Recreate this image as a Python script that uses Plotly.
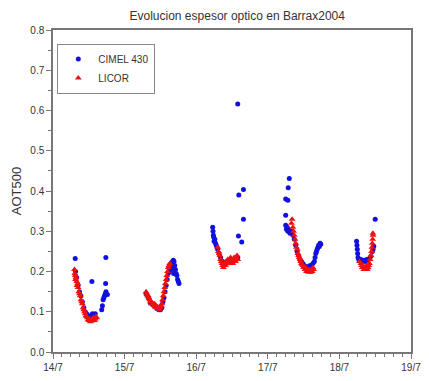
import plotly.graph_objects as go

# ---- data (day of July 2004 as fractional day, AOT500) ----
cimel_day = [
    14.31, 14.315, 14.33, 14.35, 14.37, 14.39, 14.41, 14.43, 14.45, 14.47, 14.49, 14.51, 14.53, 14.55, 14.57, 14.59,
    14.543, 14.68, 14.69, 14.70, 14.71, 14.72, 14.73, 14.735, 14.74, 14.76, 14.738,
    15.30, 15.33, 15.36, 15.39, 15.42, 15.45, 15.48, 15.50, 15.52, 15.535, 15.55, 15.565, 15.58, 15.595, 15.61, 15.625,
    15.64, 15.66, 15.67, 15.68, 15.69, 15.70, 15.71, 15.72, 15.73, 15.74, 15.75, 15.76, 15.68, 15.685,
    16.23, 16.235, 16.24, 16.245, 16.25, 16.26, 16.27, 16.28, 16.29, 16.30, 16.32, 16.34, 16.37, 16.40, 16.43, 16.46,
    16.49, 16.52, 16.55, 16.58, 16.58, 16.66, 16.595, 16.66, 16.59, 16.636,
    17.25, 17.25, 17.28, 17.285, 17.30,
    17.25, 17.26, 17.27, 17.28, 17.29, 17.30, 17.31, 17.33, 17.35, 17.37, 17.39, 17.41, 17.43, 17.45, 17.47, 17.49,
    17.51, 17.53, 17.55, 17.57, 17.59, 17.61, 17.63, 17.65, 17.66, 17.67, 17.68, 17.69, 17.70, 17.71, 17.72, 17.73, 17.74,
    18.24, 18.245, 18.25, 18.255, 18.26, 18.27, 18.28, 18.30, 18.32, 18.34, 18.36, 18.38, 18.40, 18.42, 18.44, 18.46,
    18.47, 18.48, 18.50,
]
cimel_aot = [
    0.232, 0.20, 0.185, 0.165, 0.15, 0.14, 0.125, 0.11, 0.10, 0.095, 0.09, 0.085, 0.09, 0.095, 0.09, 0.095,
    0.175, 0.105, 0.115, 0.13, 0.135, 0.14, 0.145, 0.17, 0.15, 0.143, 0.235,
    0.145, 0.135, 0.122, 0.118, 0.113, 0.108, 0.105, 0.105, 0.11, 0.125, 0.135, 0.15, 0.165, 0.18, 0.195, 0.20,
    0.21, 0.215, 0.225, 0.228, 0.225, 0.215, 0.205, 0.195, 0.19, 0.18, 0.175, 0.17, 0.205, 0.195,
    0.31, 0.30, 0.29, 0.285, 0.275, 0.28, 0.27, 0.265, 0.26, 0.255, 0.245, 0.235, 0.225, 0.22, 0.225, 0.222,
    0.228, 0.225, 0.23, 0.235, 0.616, 0.404, 0.39, 0.33, 0.288, 0.273,
    0.34, 0.38, 0.377, 0.408, 0.431,
    0.315, 0.305, 0.31, 0.30, 0.305, 0.30, 0.295, 0.30, 0.29, 0.28, 0.265, 0.25, 0.24, 0.23, 0.225, 0.22,
    0.215, 0.21, 0.212, 0.21, 0.215, 0.212, 0.22, 0.225, 0.235, 0.245, 0.25, 0.255, 0.26, 0.265, 0.262, 0.27, 0.268,
    0.275, 0.265, 0.255, 0.245, 0.235, 0.23, 0.228, 0.23, 0.225, 0.228, 0.225, 0.23, 0.228, 0.232, 0.238, 0.25,
    0.255, 0.263, 0.33,
]

licor_day = [
    14.30, 14.305, 14.31, 14.315, 14.32, 14.33, 14.335, 14.345, 14.35, 14.36, 14.37, 14.38, 14.39, 14.40, 14.41, 14.42,
    14.43, 14.44, 14.45, 14.46, 14.47, 14.48, 14.49, 14.50, 14.51, 14.52, 14.53, 14.54, 14.55, 14.56, 14.57, 14.58,
    14.59, 14.60, 14.61,
    15.30, 15.31, 15.32, 15.33, 15.34, 15.35, 15.36, 15.37, 15.38, 15.39, 15.40, 15.41, 15.42, 15.43, 15.44, 15.45,
    15.46, 15.47, 15.48, 15.49, 15.50, 15.51, 15.52, 15.53, 15.54, 15.55, 15.56, 15.57, 15.58, 15.59, 15.60, 15.61,
    15.62, 15.63,
    16.30, 16.31, 16.32, 16.33, 16.34, 16.35, 16.36, 16.37, 16.38, 16.39, 16.40, 16.41, 16.42, 16.43, 16.44, 16.45,
    16.46, 16.47, 16.48, 16.49, 16.50, 16.51, 16.52, 16.53, 16.54, 16.55, 16.56, 16.57, 16.58,
    17.33, 17.34, 17.35, 17.36, 17.37, 17.38, 17.39, 17.40, 17.41, 17.42, 17.43, 17.44, 17.45, 17.46, 17.47, 17.48,
    17.49, 17.50, 17.51, 17.52, 17.53, 17.54, 17.55, 17.56, 17.57, 17.58, 17.59, 17.60, 17.61, 17.62, 17.63, 17.64,
    18.28, 18.30, 18.31, 18.32, 18.33, 18.34, 18.35, 18.36, 18.37, 18.38, 18.39, 18.40, 18.41, 18.42, 18.43, 18.44,
    18.45, 18.455, 18.46, 18.465, 18.47, 18.468,
]
licor_aot = [
    0.205, 0.195, 0.19, 0.18, 0.185, 0.175, 0.165, 0.17, 0.16, 0.15, 0.145, 0.14, 0.13, 0.125, 0.12, 0.11,
    0.105, 0.10, 0.095, 0.09, 0.088, 0.085, 0.08, 0.078, 0.082, 0.075, 0.08, 0.077, 0.083, 0.08, 0.085, 0.078,
    0.082, 0.088, 0.085,
    0.15, 0.145, 0.14, 0.14, 0.135, 0.13, 0.125, 0.125, 0.12, 0.122, 0.118, 0.115, 0.12, 0.112, 0.115, 0.11,
    0.112, 0.108, 0.11, 0.105, 0.11, 0.115, 0.12, 0.13, 0.14, 0.15, 0.16, 0.17, 0.18, 0.19, 0.20, 0.21,
    0.215, 0.22,
    0.26, 0.25, 0.245, 0.24, 0.23, 0.225, 0.22, 0.215, 0.21, 0.215, 0.22, 0.215, 0.225, 0.22, 0.23, 0.225,
    0.22, 0.23, 0.235, 0.225, 0.23, 0.22, 0.225, 0.235, 0.23, 0.225, 0.235, 0.24, 0.23,
    0.32, 0.33, 0.31, 0.30, 0.29, 0.28, 0.27, 0.26, 0.255, 0.245, 0.24, 0.235, 0.23, 0.225, 0.22, 0.218,
    0.215, 0.21, 0.212, 0.205, 0.21, 0.20, 0.205, 0.20, 0.198, 0.205, 0.20, 0.198, 0.205, 0.20, 0.21, 0.205,
    0.225, 0.22, 0.215, 0.21, 0.215, 0.205, 0.21, 0.205, 0.21, 0.215, 0.205, 0.21, 0.215, 0.22, 0.23, 0.24,
    0.25, 0.26, 0.27, 0.28, 0.29, 0.295,
]

day_ticks = [14, 15, 16, 17, 18, 19]
day_labels = ["14/7", "15/7", "16/7", "17/7", "18/7", "19/7"]

FONT = "Liberation Sans, Arial, sans-serif"
AXIS_COLOR = "#777777"
TEXT_COLOR = "#333333"

fig = go.Figure()
fig.add_trace(go.Scatter(
    x=cimel_day, y=cimel_aot, mode="markers", name="CIMEL 430",
    marker=dict(symbol="circle", size=5, color="#1010e0", line=dict(width=0)),
))
fig.add_trace(go.Scatter(
    x=licor_day, y=licor_aot, mode="markers", name="LICOR",
    marker=dict(symbol="triangle-up", size=6, color="#ee1111", line=dict(width=0)),
))

fig.update_layout(
    width=429, height=381,
    margin=dict(l=53, r=8, t=30, b=26),
    paper_bgcolor="white", plot_bgcolor="white",
    font=dict(family=FONT, size=11, color=TEXT_COLOR),
    title=dict(text="Evolucion espesor optico en Barrax2004", x=0.553, xanchor="center",
               y=0.958, yanchor="middle", font=dict(size=12, color=TEXT_COLOR)),
    showlegend=True,
    legend=dict(x=0.012, y=0.958, xanchor="left", yanchor="top",
                bgcolor="white", bordercolor="#888888", borderwidth=1,
                font=dict(size=10, color=TEXT_COLOR), itemsizing="trace",
                tracegroupgap=0, itemwidth=30),
)

fig.update_xaxes(
    range=[14, 19], tickmode="array", tickvals=day_ticks, ticktext=day_labels,
    ticklabeloverflow="allow",
    showgrid=False, zeroline=False,
    showline=True, linecolor=AXIS_COLOR, linewidth=1.5, mirror=True,
    ticks="outside", ticklen=5, tickwidth=1, tickcolor=AXIS_COLOR,
    tickfont=dict(size=10, color=TEXT_COLOR),
    minor=dict(dtick=0.125, tick0=14, ticks="outside", ticklen=3, tickcolor=AXIS_COLOR, showgrid=False),
)
fig.update_yaxes(
    range=[0, 0.8], tick0=0, dtick=0.1, tickformat=".1f",
    showgrid=False, zeroline=False,
    showline=True, linecolor=AXIS_COLOR, linewidth=1.5, mirror=True,
    ticks="outside", ticklen=5, tickwidth=1, tickcolor=AXIS_COLOR,
    tickfont=dict(size=10, color=TEXT_COLOR),
    title=dict(text="AOT500", font=dict(size=13, color=TEXT_COLOR), standoff=6),
    minor=dict(dtick=0.05, ticks="outside", ticklen=3, tickcolor=AXIS_COLOR, showgrid=False),
)

fig.write_html("out.html")
